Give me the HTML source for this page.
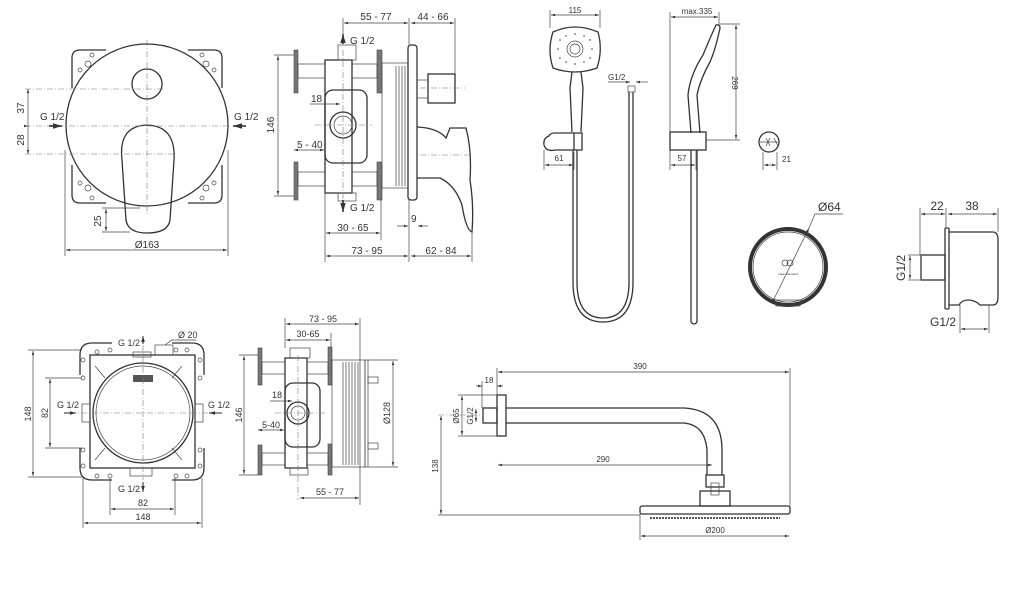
<!DOCTYPE html>
<html><head><meta charset="utf-8"><style>
html,body{margin:0;padding:0;background:#fff;}
svg{display:block;}
text{font-family:"Liberation Sans",sans-serif;fill:#333;}
.l{stroke:#333;stroke-width:1.3;fill:none;}
.t{stroke:#444;stroke-width:0.7;fill:none;}
.d{stroke:#777;stroke-width:0.6;fill:none;stroke-dasharray:6 2 1 2;}
.g{fill:#777;stroke:#444;stroke-width:0.6;}
</style></head><body>
<svg width="1024" height="609" viewBox="0 0 1024 609" xmlns="http://www.w3.org/2000/svg">
<defs>
<marker id="a" viewBox="0 0 10 10" refX="10" refY="5" markerWidth="6" markerHeight="6" orient="auto-start-reverse"><path d="M0,2 L10,5 L0,8z" fill="#333"/></marker>
</defs>

<!-- ===== Drawing 1: front mixer ===== -->
<g>
<path class="l" d="M72,88 L72,58 Q72,50 80,50 L106,50 M188,50 L214,50 Q222,50 222,58 L222,88 M72,165 L72,195 Q72,203 80,203 L106,203 M188,203 L214,203 Q222,203 222,195 L222,165"/>
<circle class="t" cx="80" cy="70" r="2"/><circle class="t" cx="92" cy="55" r="2"/><circle class="t" cx="214" cy="70" r="2"/><circle class="t" cx="202" cy="55" r="2"/>
<circle class="t" cx="80" cy="183" r="2"/><circle class="t" cx="92" cy="198" r="2"/><circle class="t" cx="214" cy="183" r="2"/><circle class="t" cx="202" cy="198" r="2"/>
<circle class="t" cx="88" cy="64" r="3"/><circle class="t" cx="206" cy="64" r="3"/><circle class="t" cx="88" cy="188" r="3"/><circle class="t" cx="206" cy="188" r="3"/>
<circle class="l" cx="147" cy="125" r="81"/>
<circle class="l" cx="147" cy="84" r="15"/>
<path class="l" d="M122,160 Q118,126 147,125 Q176,126 174,160 L170,220 Q168,233 147,233 Q128,233 126,220 Z"/>
<line class="d" x1="147" y1="40" x2="147" y2="215"/>
<line class="d" x1="25" y1="89" x2="165" y2="89"/>
<line class="d" x1="25" y1="126" x2="230" y2="126"/>
<line class="d" x1="25" y1="154" x2="175" y2="154"/>
<line class="t" x1="28" y1="89" x2="28" y2="154" marker-start="url(#a)" marker-end="url(#a)"/>
<line class="t" x1="28" y1="126" x2="28" y2="126" marker-end="url(#a)"/>
<text x="24" y="108" font-size="10" transform="rotate(-90 24 108)" text-anchor="middle">37</text>
<text x="24" y="140" font-size="10" transform="rotate(-90 24 140)" text-anchor="middle">28</text>
<text x="40" y="120" font-size="10">G 1/2</text>
<text x="234" y="120" font-size="10">G 1/2</text>
<line x1="49" y1="126" x2="62" y2="126" stroke="#222" stroke-width="1.5" marker-end="url(#a)"/>
<line x1="246" y1="126" x2="233" y2="126" stroke="#222" stroke-width="1.5" marker-end="url(#a)"/>
<line class="t" x1="65" y1="150" x2="65" y2="256"/><line class="t" x1="228" y1="150" x2="228" y2="256"/>
<line class="t" x1="66" y1="250" x2="227" y2="250" marker-start="url(#a)" marker-end="url(#a)"/>
<text x="147" y="248" font-size="10" text-anchor="middle">Ø163</text>
<line class="t" x1="102" y1="208" x2="140" y2="208"/><line class="t" x1="102" y1="232" x2="130" y2="232"/>
<line class="t" x1="106" y1="209" x2="106" y2="231" marker-start="url(#a)" marker-end="url(#a)"/>
<text x="101" y="221" font-size="10" transform="rotate(-90 101 221)" text-anchor="middle">25</text>
</g>

<!-- ===== Drawing 2: side mixer ===== -->
<g>
<rect class="g" x="294" y="50" width="4" height="43"/><rect class="g" x="294" y="162" width="4" height="38"/>
<rect class="g" x="377" y="50" width="5" height="43"/><rect class="g" x="377" y="162" width="5" height="38"/>
<rect class="t" x="298" y="64" width="27" height="14" fill="#bbb"/><rect class="t" x="298" y="172" width="27" height="14" fill="#bbb"/>
<rect class="t" x="352" y="64" width="25" height="14" fill="#bbb"/><rect class="t" x="352" y="172" width="25" height="14" fill="#bbb"/>
<rect class="l" x="325" y="60" width="27" height="133"/>
<rect class="t" x="338" y="45" width="18" height="15"/><rect class="t" x="338" y="193" width="18" height="8"/>
<rect class="l" x="325" y="90" width="42" height="73" rx="8" fill="#fff"/>
<circle class="l" cx="343" cy="125" r="13"/><circle class="t" cx="343" cy="125" r="9"/>
<rect class="t" x="382" y="63" width="26" height="125"/>
<path class="t" d="M396,66 V186 M399,66 V186 M402,66 V186 M405,66 V186"/>
<rect class="l" x="408" y="45" width="9" height="155" rx="3"/>
<rect class="l" x="428" y="74" width="27" height="29"/><line class="t" x1="417" y1="80" x2="428" y2="80"/><line class="t" x1="417" y1="98" x2="428" y2="98"/>
<path class="l" d="M417,127 Q438,128 446,138 L450,128 L466,128 Q472,150 470,180 Q474,205 472,232 Q466,230 462,205 Q455,185 440,178 L417,178"/>
<line class="d" x1="315" y1="125" x2="372" y2="125"/><line class="d" x1="343" y1="50" x2="343" y2="200"/>
<line class="d" x1="420" y1="88" x2="465" y2="88"/><line class="d" x1="420" y1="155" x2="472" y2="155"/>
<line x1="343" y1="44" x2="343" y2="34" stroke="#222" stroke-width="1.5" marker-end="url(#a)"/>
<line x1="343" y1="200" x2="343" y2="212" stroke="#222" stroke-width="1.5" marker-end="url(#a)"/>
<text x="350" y="44" font-size="10">G 1/2</text><text x="350" y="211" font-size="10">G 1/2</text>
<line class="t" x1="343" y1="18" x2="343" y2="35"/><line class="t" x1="409" y1="18" x2="409" y2="45"/><line class="t" x1="455" y1="18" x2="455" y2="74"/>
<line class="t" x1="344" y1="23" x2="408" y2="23" marker-start="url(#a)" marker-end="url(#a)"/>
<line class="t" x1="411" y1="23" x2="454" y2="23" marker-start="url(#a)" marker-end="url(#a)"/>
<text x="376" y="20" font-size="10" text-anchor="middle">55 - 77</text><text x="433" y="20" font-size="10" text-anchor="middle">44 - 66</text>
<line class="t" x1="274" y1="55" x2="294" y2="55"/><line class="t" x1="274" y1="196" x2="294" y2="196"/>
<line class="t" x1="278" y1="56" x2="278" y2="195" marker-start="url(#a)" marker-end="url(#a)"/>
<text x="274" y="125" font-size="10" transform="rotate(-90 274 125)" text-anchor="middle">146</text>
<line class="t" x1="310" y1="104" x2="340" y2="104" marker-end="url(#a)"/><text x="311" y="102" font-size="10">18</text>
<line class="t" x1="294" y1="150" x2="324" y2="150" marker-start="url(#a)" marker-end="url(#a)"/><text x="297" y="148" font-size="10">5 - 40</text>
<line class="t" x1="325" y1="190" x2="325" y2="262"/><line class="t" x1="381" y1="200" x2="381" y2="240"/><line class="t" x1="409" y1="200" x2="409" y2="262"/><line class="t" x1="472" y1="232" x2="472" y2="262"/>
<line class="t" x1="326" y1="233" x2="380" y2="233" marker-start="url(#a)" marker-end="url(#a)"/><text x="353" y="231" font-size="10" text-anchor="middle">30 - 65</text>
<line class="t" x1="326" y1="256" x2="408" y2="256" marker-start="url(#a)" marker-end="url(#a)"/><text x="367" y="254" font-size="10" text-anchor="middle">73 - 95</text>
<line class="t" x1="411" y1="256" x2="471" y2="256" marker-start="url(#a)" marker-end="url(#a)"/><text x="441" y="254" font-size="10" text-anchor="middle">62 - 84</text>
<line class="t" x1="397" y1="226" x2="408" y2="226" marker-end="url(#a)"/><line class="t" x1="428" y1="226" x2="418" y2="226" marker-end="url(#a)"/>
<text x="411" y="222" font-size="10">9</text>
</g>

<!-- ===== Drawing 3: bottom-left box front ===== -->
<g>
<rect class="l" x="90" y="355" width="105" height="113"/>
<path class="l" d="M80,375 V355 Q80,343 92,343 H112 M172,343 H192 Q204,343 204,355 V375 M80,448 V468 Q80,480 92,480 H112 M172,480 H192 Q204,480 204,468 V448"/>
<circle class="l" cx="143" cy="413" r="50"/><circle class="t" cx="143" cy="413" r="47"/>
<rect class="t" x="133" y="352" width="18" height="5"/><rect class="t" x="130" y="468" width="22" height="8"/>
<rect class="t" x="155" y="345" width="18" height="10"/>
<rect x="133" y="375" width="20" height="7" fill="#555"/>
<rect class="t" x="82" y="404" width="8" height="18"/><rect class="t" x="195" y="404" width="8" height="18"/>
<g fill="none" stroke="#444" stroke-width="0.7">
<circle cx="97" cy="352" r="2"/><circle cx="110" cy="350" r="2"/><circle cx="83" cy="360" r="2"/><circle cx="83" cy="378" r="2"/>
<circle cx="187" cy="350" r="2"/><circle cx="176" cy="350" r="2"/><circle cx="200" cy="360" r="2"/><circle cx="200" cy="378" r="2"/>
<circle cx="97" cy="476" r="2"/><circle cx="110" cy="476" r="2"/><circle cx="83" cy="466" r="2"/><circle cx="83" cy="450" r="2"/>
<circle cx="187" cy="476" r="2"/><circle cx="176" cy="476" r="2"/><circle cx="200" cy="466" r="2"/><circle cx="200" cy="450" r="2"/>
<path d="M95,366 L105,378 M182,366 L172,378 M95,460 L105,448 M182,460 L172,448"/>
</g>
<line class="d" x1="143" y1="345" x2="143" y2="480"/><line class="d" x1="70" y1="413" x2="215" y2="413"/>
<text x="118" y="346" font-size="9">G 1/2</text><line x1="143" y1="344" x2="143" y2="336" stroke="#222" marker-end="url(#a)"/>
<text x="118" y="492" font-size="9">G 1/2</text><line x1="143" y1="482" x2="143" y2="492" stroke="#222" marker-end="url(#a)"/>
<text x="57" y="408" font-size="9">G 1/2</text><line x1="64" y1="413" x2="76" y2="413" stroke="#222" marker-end="url(#a)"/>
<text x="208" y="408" font-size="9">G 1/2</text><line x1="222" y1="413" x2="209" y2="413" stroke="#222" marker-end="url(#a)"/>
<text x="178" y="338" font-size="9">Ø 20</text><path class="t" d="M165,345 L172,340 H196"/>
<line class="t" x1="28" y1="350" x2="82" y2="350"/><line class="t" x1="28" y1="477" x2="82" y2="477"/>
<line class="t" x1="33" y1="351" x2="33" y2="476" marker-start="url(#a)" marker-end="url(#a)"/>
<text x="31" y="414" font-size="9" transform="rotate(-90 31 414)" text-anchor="middle">148</text>
<line class="t" x1="45" y1="378" x2="82" y2="378"/><line class="t" x1="45" y1="448" x2="82" y2="448"/>
<line class="t" x1="50" y1="379" x2="50" y2="447" marker-start="url(#a)" marker-end="url(#a)"/>
<text x="48" y="413" font-size="9" transform="rotate(-90 48 413)" text-anchor="middle">82</text>
<line class="t" x1="110" y1="478" x2="110" y2="515"/><line class="t" x1="175" y1="478" x2="175" y2="515"/>
<line class="t" x1="111" y1="509" x2="174" y2="509" marker-start="url(#a)" marker-end="url(#a)"/><text x="143" y="506" font-size="9" text-anchor="middle">82</text>
<line class="t" x1="83" y1="478" x2="83" y2="528"/><line class="t" x1="202" y1="478" x2="202" y2="528"/>
<line class="t" x1="84" y1="523" x2="201" y2="523" marker-start="url(#a)" marker-end="url(#a)"/><text x="143" y="520" font-size="9" text-anchor="middle">148</text>
</g>

<!-- ===== Drawing 4: bottom box side ===== -->
<g>
<rect class="g" x="258" y="348" width="4" height="37"/><rect class="g" x="258" y="445" width="4" height="30"/>
<rect class="g" x="328" y="347" width="4" height="38"/><rect class="g" x="328" y="444" width="4" height="31"/>
<rect class="t" x="262" y="362" width="23" height="12" fill="#bbb"/><rect class="t" x="262" y="453" width="23" height="12" fill="#bbb"/>
<rect class="t" x="307" y="362" width="21" height="12" fill="#bbb"/><rect class="t" x="307" y="453" width="21" height="12" fill="#bbb"/>
<rect class="l" x="285" y="358" width="22" height="110"/>
<rect class="t" x="290" y="348" width="20" height="10"/><rect class="t" x="290" y="468" width="18" height="7"/>
<rect class="l" x="285" y="383" width="35" height="64" rx="8" fill="#fff"/>
<circle class="l" cx="298" cy="413" r="11"/><circle class="t" cx="298" cy="413" r="7"/>
<rect class="t" x="332" y="360" width="33" height="107"/>
<path class="t" d="M343,362 V465 M346,362 V465 M349,362 V465 M352,362 V465 M355,362 V465 M358,362 V465"/>
<rect class="t" x="365" y="360" width="3" height="107"/>
<rect class="t" x="368" y="377" width="10" height="6"/><rect class="t" x="368" y="443" width="10" height="6"/>
<line class="d" x1="275" y1="413" x2="325" y2="413"/><line class="d" x1="298" y1="355" x2="298" y2="500"/>
<line class="t" x1="285" y1="318" x2="285" y2="348"/><line class="t" x1="331" y1="333" x2="331" y2="347"/><line class="t" x1="360" y1="318" x2="360" y2="505"/>
<line class="t" x1="286" y1="324" x2="359" y2="324" marker-start="url(#a)" marker-end="url(#a)"/><text x="323" y="322" font-size="9" text-anchor="middle">73 - 95</text>
<line class="t" x1="286" y1="340" x2="330" y2="340" marker-start="url(#a)" marker-end="url(#a)"/><text x="308" y="337" font-size="9" text-anchor="middle">30-65</text>
<line class="t" x1="239" y1="355" x2="258" y2="355"/><line class="t" x1="239" y1="475" x2="258" y2="475"/>
<line class="t" x1="244" y1="356" x2="244" y2="474" marker-start="url(#a)" marker-end="url(#a)"/>
<text x="242" y="415" font-size="9" transform="rotate(-90 242 415)" text-anchor="middle">146</text>
<line class="t" x1="270" y1="401" x2="292" y2="401" marker-end="url(#a)"/><text x="272" y="398" font-size="9">18</text>
<line class="t" x1="258" y1="430" x2="284" y2="430" marker-start="url(#a)" marker-end="url(#a)"/><text x="262" y="428" font-size="9">5-40</text>
<line class="t" x1="300" y1="498" x2="359" y2="498" marker-start="url(#a)" marker-end="url(#a)"/><text x="330" y="495" font-size="9" text-anchor="middle">55 - 77</text>
<line class="t" x1="368" y1="360" x2="398" y2="360"/><line class="t" x1="368" y1="467" x2="398" y2="467"/>
<line class="t" x1="393" y1="361" x2="393" y2="466" marker-start="url(#a)" marker-end="url(#a)"/>
<text x="390" y="413" font-size="9" transform="rotate(-90 390 413)" text-anchor="middle">Ø128</text>
</g>

<!-- ===== Hand shower ===== -->
<g>
<path class="l" d="M553,32 Q575,22 598,32 Q603,50 597,68 Q575,76 553,68 Q547,50 553,32Z"/>
<circle class="t" cx="575" cy="49" r="8"/><circle class="t" cx="575" cy="49" r="5"/>
<g fill="#888"><circle cx="560" cy="40" r="1"/><circle cx="566" cy="36" r="1"/><circle cx="584" cy="36" r="1"/><circle cx="590" cy="40" r="1"/><circle cx="560" cy="58" r="1"/><circle cx="590" cy="58" r="1"/><circle cx="566" cy="62" r="1"/><circle cx="584" cy="62" r="1"/><circle cx="558" cy="49" r="1"/><circle cx="592" cy="49" r="1"/><circle cx="575" cy="34" r="1"/><circle cx="575" cy="64" r="1"/></g>
<path class="l" d="M572,72 L570,88 L572,132 M581,72 L583,88 L581,132"/>
<path class="l" d="M574,133 H582 V150 H574 M549,136 Q543,138 544,145 Q546,152 555,150 L574,150 V133 L555,133 Q550,133 549,136Z"/>
<path class="l" d="M573,150 V282 Q573,322 603,322 Q633,322 633,282 V92 M577,150 V282 Q577,318 603,318 Q629,318 629,282 V92"/>
<rect class="t" x="628" y="86" width="7" height="6"/>
<line class="t" x1="550" y1="10" x2="550" y2="28"/><line class="t" x1="600" y1="10" x2="600" y2="28"/>
<line class="t" x1="551" y1="15" x2="599" y2="15" marker-start="url(#a)" marker-end="url(#a)"/><text x="575" y="13" font-size="8" text-anchor="middle">115</text>
<line class="t" x1="544" y1="150" x2="544" y2="170"/><line class="t" x1="574" y1="152" x2="574" y2="170"/>
<line class="t" x1="545" y1="165" x2="573" y2="165" marker-start="url(#a)" marker-end="url(#a)"/><text x="559" y="161" font-size="8" text-anchor="middle">61</text>
<line class="t" x1="608" y1="82" x2="630" y2="82" marker-end="url(#a)"/><line class="t" x1="648" y1="82" x2="636" y2="82" marker-end="url(#a)"/><text x="608" y="80" font-size="8">G1/2</text>
</g>
<!-- side view -->
<g>
<path class="l" d="M691,133 L688,95 Q690,75 703,55 Q710,38 716,25 Q720,24 720,28 Q716,48 710,62 Q700,80 697,95 L700,133"/>
<rect class="l" x="670" y="132" width="36" height="18"/>
<path class="l" d="M691,150 V322 Q694,326 697,322 V150"/>
<line class="t" x1="670" y1="12" x2="670" y2="132"/><line class="t" x1="719" y1="12" x2="719" y2="25"/>
<line class="t" x1="671" y1="17" x2="718" y2="17" marker-start="url(#a)" marker-end="url(#a)"/><text x="697" y="14" font-size="8" text-anchor="middle">max.335</text>
<line class="t" x1="720" y1="24" x2="740" y2="24"/><line class="t" x1="706" y1="140" x2="740" y2="140"/>
<line class="t" x1="736" y1="25" x2="736" y2="139" marker-start="url(#a)" marker-end="url(#a)"/>
<text x="732" y="83" font-size="8" transform="rotate(90 732 83)" text-anchor="middle">269</text>
<line class="t" x1="670" y1="150" x2="670" y2="170"/><line class="t" x1="696" y1="150" x2="696" y2="170"/>
<line class="t" x1="671" y1="165" x2="695" y2="165" marker-start="url(#a)" marker-end="url(#a)"/><text x="682" y="161" font-size="8" text-anchor="middle">57</text>
<circle class="l" cx="769" cy="142" r="10"/><path class="t" d="M760,142 H778 M766,138 L770,146 M770,138 L766,146 M774,138 L778,146"/>
<line class="t" x1="763" y1="152" x2="763" y2="170"/><line class="t" x1="777" y1="152" x2="777" y2="170"/>
<line class="t" x1="764" y1="165" x2="776" y2="165" marker-start="url(#a)" marker-end="url(#a)"/><text x="782" y="162" font-size="8">21</text>
</g>

<!-- Ø64 -->
<g>
<circle cx="788" cy="267" r="38" fill="none" stroke="#333" stroke-width="4"/>
<circle class="t" cx="788" cy="267" r="35"/>
<path class="t" d="M774,300 H802 L800,306 H776Z"/>
<line class="t" x1="772" y1="303" x2="809" y2="228" marker-start="url(#a)" marker-end="url(#a)"/>
<line class="t" x1="809" y1="228" x2="815" y2="214"/><line class="t" x1="815" y1="214" x2="843" y2="214"/>
<text x="818" y="211" font-size="12">Ø64</text>
<circle class="t" cx="785" cy="263" r="3"/><circle class="t" cx="790" cy="263" r="3"/>
<text x="788" y="275" font-size="3" text-anchor="middle">Ideal Standard</text>
</g>

<!-- Wall outlet -->
<g>
<rect class="l" x="921" y="255" width="24" height="25"/>
<rect class="l" x="945" y="228" width="4" height="81" rx="1"/>
<path class="l" d="M949,232 H993 Q998,232 998,240 V297 Q998,305 993,305 H980 Q975,300 968,300 Q962,300 959,305 H949"/>
<line class="t" x1="920" y1="208" x2="920" y2="255"/><line class="t" x1="946" y1="208" x2="946" y2="228"/><line class="t" x1="998" y1="208" x2="998" y2="232"/>
<line class="t" x1="921" y1="214" x2="945" y2="214" marker-start="url(#a)" marker-end="url(#a)"/>
<line class="t" x1="948" y1="214" x2="997" y2="214" marker-start="url(#a)" marker-end="url(#a)"/>
<text x="937" y="210" font-size="12" text-anchor="middle">22</text><text x="972" y="210" font-size="12" text-anchor="middle">38</text>
<line class="t" x1="908" y1="255" x2="920" y2="255"/><line class="t" x1="908" y1="280" x2="920" y2="280"/>
<line class="t" x1="910" y1="256" x2="910" y2="279" marker-start="url(#a)" marker-end="url(#a)"/>
<text x="905" y="268" font-size="12" transform="rotate(-90 905 268)" text-anchor="middle">G1/2</text>
<line class="t" x1="960" y1="305" x2="960" y2="333"/><line class="t" x1="989" y1="305" x2="989" y2="333"/>
<line class="t" x1="961" y1="329" x2="988" y2="329" marker-start="url(#a)" marker-end="url(#a)"/>
<text x="930" y="326" font-size="12">G1/2</text>
</g>

<!-- Rain shower arm -->
<g>
<rect class="l" x="497" y="395" width="9" height="41"/>
<rect class="l" x="483" y="408" width="14" height="15"/>
<path class="l" d="M506,408 H684 Q722,410 722,450 V475 M506,423 H684 Q705,425 707,450 V475"/>
<rect class="l" x="706" y="475" width="18" height="12"/><rect class="t" x="711" y="483" width="8" height="12"/>
<rect class="l" x="700" y="491" width="30" height="15"/>
<rect class="l" x="640" y="506" width="150" height="8" rx="2"/>
<path d="M650,518 H780" stroke="#555" stroke-width="2" stroke-dasharray="2 1"/>
<line class="t" x1="497" y1="368" x2="497" y2="395"/><line class="t" x1="790" y1="368" x2="790" y2="506"/>
<line class="t" x1="498" y1="372" x2="789" y2="372" marker-start="url(#a)" marker-end="url(#a)"/><text x="640" y="369" font-size="8" text-anchor="middle">390</text>
<line class="t" x1="482" y1="381" x2="482" y2="408"/>
<line class="t" x1="476" y1="386" x2="482" y2="386" marker-end="url(#a)"/><line class="t" x1="503" y1="386" x2="497" y2="386" marker-end="url(#a)"/><text x="489" y="383" font-size="8" text-anchor="middle">18</text>
<line class="t" x1="458" y1="395" x2="497" y2="395"/><line class="t" x1="458" y1="436" x2="497" y2="436"/>
<line class="t" x1="462" y1="396" x2="462" y2="435" marker-start="url(#a)" marker-end="url(#a)"/>
<text x="459" y="416" font-size="8" transform="rotate(-90 459 416)" text-anchor="middle">Ø65</text>
<line class="t" x1="476" y1="409" x2="476" y2="422" marker-start="url(#a)" marker-end="url(#a)"/>
<text x="473" y="416" font-size="8" transform="rotate(-90 473 416)" text-anchor="middle">G1/2</text>
<line class="d" x1="438" y1="415" x2="483" y2="415"/>
<line class="t" x1="441" y1="416" x2="441" y2="514" marker-start="url(#a)" marker-end="url(#a)"/>
<line class="t" x1="438" y1="515" x2="640" y2="515"/>
<text x="438" y="466" font-size="8" transform="rotate(-90 438 466)" text-anchor="middle">138</text>
<line class="t" x1="498" y1="465" x2="712" y2="465" marker-start="url(#a)" marker-end="url(#a)"/><text x="603" y="462" font-size="8" text-anchor="middle">290</text>
<line class="t" x1="640" y1="514" x2="640" y2="540"/>
<line class="t" x1="641" y1="536" x2="789" y2="536" marker-start="url(#a)" marker-end="url(#a)"/><text x="715" y="533" font-size="8" text-anchor="middle">Ø200</text>
</g>
</svg>
</body></html>
